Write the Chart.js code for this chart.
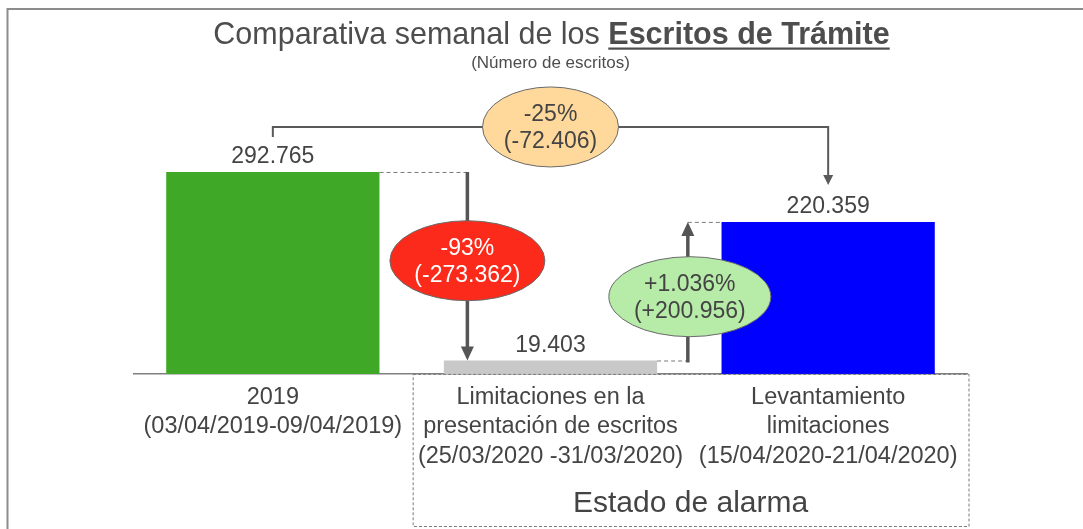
<!DOCTYPE html>
<html><head><meta charset="utf-8">
<script src="https://cdn.jsdelivr.net/npm/chart.js@4"></script>
<style>html,body{margin:0;padding:0;background:#fff;overflow:hidden}</style>
</head><body>
<canvas id="c" width="1083" height="529"></canvas>
<script>
const categories = [
  ["2019", "(03/04/2019-09/04/2019)"],
  ["Limitaciones en la", "presentación de escritos", "(25/03/2020 -31/03/2020)"],
  ["Levantamiento", "limitaciones", "(15/04/2020-21/04/2020)"]
];
const escritos = [292765, 19403, 220359];
const valueLabels = ["292.765", "19.403", "220.359"];
const barColors = ["#3FA927", "#C8C8C8", "#0000FF"];
const dropLabel = ["-93%", "(-273.362)"];
const riseLabel = ["+1.036%", "(+200.956)"];
const totalLabel = ["-25%", "(-72.406)"];
const titleRegular = "Comparativa semanal de los ";
const titleBold = "Escritos de Trámite";
const subtitle = "(Número de escritos)";
const groupLabel = "Estado de alarma";
const yMax = 411600;

const FONT = "'Liberation Sans', Arial, sans-serif";
const TXT = "#444444";

function ellipse(ctx, cx, cy, rx, ry, fill, lines, color) {
  ctx.save();
  ctx.beginPath();
  ctx.ellipse(cx, cy, rx, ry, 0, 0, Math.PI * 2);
  ctx.fillStyle = fill; ctx.fill();
  ctx.lineWidth = 1; ctx.strokeStyle = "#6a6a6a"; ctx.stroke();
  ctx.fillStyle = color; ctx.font = "23px " + FONT;
  ctx.textAlign = "center"; ctx.textBaseline = "middle";
  ctx.fillText(lines[0], cx, cy - 12);
  ctx.fillText(lines[1], cx, cy + 15);
  ctx.restore();
}
function arrowHead(ctx, x, tipY, dir, w, l, color) {
  ctx.save(); ctx.fillStyle = color; ctx.beginPath();
  ctx.moveTo(x, tipY);
  ctx.lineTo(x - w / 2, tipY - dir * l);
  ctx.lineTo(x + w / 2, tipY - dir * l);
  ctx.closePath(); ctx.fill(); ctx.restore();
}
function dashed(ctx, x1, y1, x2, y2) {
  ctx.save(); ctx.setLineDash([4, 3]); ctx.strokeStyle = "#7a7a7a"; ctx.lineWidth = 1;
  ctx.beginPath(); ctx.moveTo(x1, y1); ctx.lineTo(x2, y2); ctx.stroke(); ctx.restore();
}

const deco = {
  id: "deco",
  beforeDraw(chart) {
    const ctx = chart.ctx;
    ctx.save();
    ctx.fillStyle = "#fff"; ctx.fillRect(0, 0, chart.width, chart.height);
    ctx.strokeStyle = "#8c8c8c"; ctx.lineWidth = 2;
    ctx.beginPath(); ctx.moveTo(7.5, chart.height); ctx.lineTo(7.5, 9); ctx.lineTo(chart.width, 9); ctx.stroke();
    ctx.restore();
  },
  afterDraw(chart) {
    const ctx = chart.ctx;
    const ca = chart.chartArea;
    const xs = chart.scales.x;
    const b = chart.getDatasetMeta(0).data;
    const cx = (ca.left + ca.right) / 2;
    ctx.save();
    // Title
    ctx.textBaseline = "alphabetic"; ctx.fillStyle = "#4d4d4d";
    ctx.font = "30.5px " + FONT; const w1 = ctx.measureText(titleRegular).width;
    ctx.font = "bold 30.5px " + FONT; const w2 = ctx.measureText(titleBold).width;
    const sx = cx + 1 - (w1 + w2) / 2;
    ctx.textAlign = "left";
    ctx.font = "30.5px " + FONT; ctx.fillText(titleRegular, sx, 44);
    ctx.font = "bold 30.5px " + FONT; ctx.fillText(titleBold, sx + w1, 44);
    ctx.fillRect(sx + w1, 47.5, w2, 2.2);
    ctx.font = "17px " + FONT; ctx.textAlign = "center"; ctx.textBaseline = "middle";
    ctx.fillText(subtitle, cx, 63);

    // value labels
    ctx.fillStyle = TXT; ctx.font = "23px " + FONT;
    b.forEach((bar, i) => ctx.fillText(valueLabels[i], bar.x, bar.y - 15));

    const L = i => b[i].x - b[i].width / 2, R = i => b[i].x + b[i].width / 2;
    const dark = "#555555";

    // total connector
    const yTop = b[0].y - 45;
    ctx.strokeStyle = "#5a5a5a"; ctx.lineWidth = 2;
    ctx.beginPath();
    ctx.moveTo(b[0].x, b[0].y - 35); ctx.lineTo(b[0].x, yTop);
    ctx.lineTo(b[2].x, yTop); ctx.lineTo(b[2].x, b[2].y - 45);
    ctx.stroke();
    arrowHead(ctx, b[2].x, b[2].y - 37, 1, 10, 10, "#5a5a5a");
    ellipse(ctx, (b[0].x + b[2].x) / 2, yTop, 68, 40, "#FED99B", totalLabel, TXT);

    // drop arrow
    const xd = L(1) + 23.5;
    dashed(ctx, R(0), b[0].y + 0.5, xd, b[0].y + 0.5);
    ctx.strokeStyle = dark; ctx.lineWidth = 3.5;
    ctx.beginPath(); ctx.moveTo(xd, b[0].y); ctx.lineTo(xd, b[1].y - 12); ctx.stroke();
    arrowHead(ctx, xd, b[1].y, 1, 13, 14, dark);
    ellipse(ctx, xd, (b[0].y + b[1].y) / 2 - 5.5, 77.5, 40, "#FB2A1B", dropLabel, "#ffffff");

    // rise arrow
    const xu = (R(1) + L(2)) / 2 - 1.5;
    dashed(ctx, R(1), b[1].y + 0.5, xu + 4, b[1].y + 0.5);
    dashed(ctx, xu, b[2].y + 0.5, L(2), b[2].y + 0.5);
    ctx.strokeStyle = dark; ctx.lineWidth = 3.5;
    ctx.beginPath(); ctx.moveTo(xu, b[1].y + 2); ctx.lineTo(xu, b[2].y + 12); ctx.stroke();
    arrowHead(ctx, xu, b[2].y, -1, 13, 14, dark);
    ellipse(ctx, xu + 2, (b[1].y + b[2].y) / 2 + 5.5, 81, 40, "#B6EBA8", riseLabel, TXT);

    // group box
    const gx1 = xs.getPixelForValue(0.5) + 1, gx2 = ca.right + 1.5;
    ctx.save(); ctx.setLineDash([3, 2]); ctx.strokeStyle = "#7a7a7a"; ctx.lineWidth = 1;
    ctx.strokeRect(gx1 + 0.5, ca.bottom + 0.5, gx2 - gx1, 526 - ca.bottom);
    ctx.restore();
    ctx.fillStyle = TXT; ctx.font = "30px " + FONT; ctx.textAlign = "center"; ctx.textBaseline = "middle";
    ctx.fillText(groupLabel, (gx1 + gx2) / 2, 504);
    ctx.restore();
  }
};

new Chart(document.getElementById("c"), {
  type: "bar",
  data: {
    labels: categories,
    datasets: [{ data: escritos, backgroundColor: barColors, borderWidth: 0,
      categoryPercentage: 1, barPercentage: 0.768 }]
  },
  options: {
    responsive: false, animation: false, devicePixelRatio: 1,
    layout: { padding: { left: 134, right: 116, top: 90, bottom: 49 } },
    plugins: { legend: { display: false }, title: { display: false }, tooltip: { enabled: false } },
    scales: {
      x: {
        grid: { display: false, drawTicks: false },
        border: { display: true, color: "#808080", width: 1.5 },
        ticks: { color: TXT, font: { family: FONT, size: 23.5, lineHeight: 1.25 }, padding: 9, maxRotation: 0, autoSkip: false }
      },
      y: { display: false, min: 0, max: yMax }
    }
  },
  plugins: [deco]
});
</script>
</body></html>
